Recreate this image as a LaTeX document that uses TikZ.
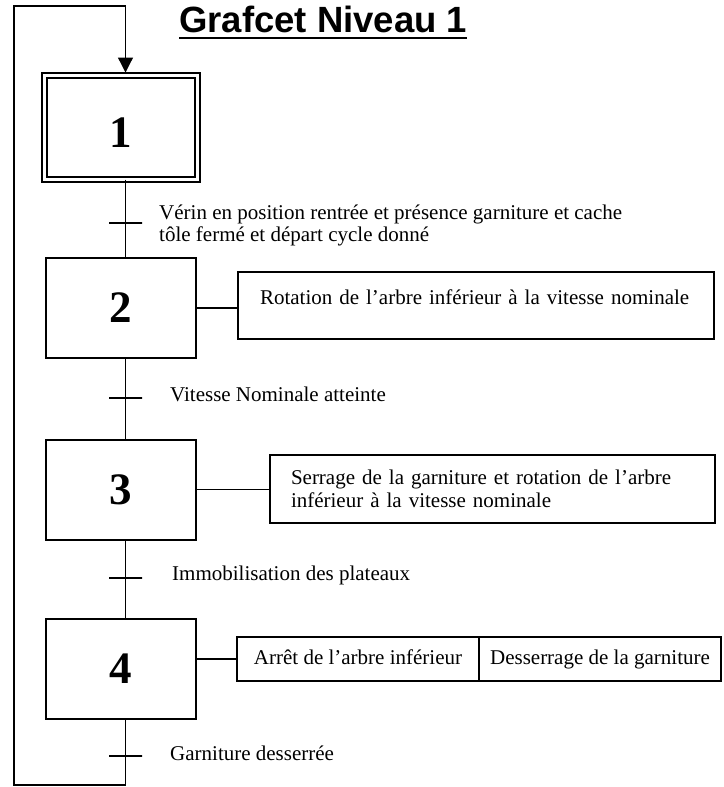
\documentclass[tikz,border=0pt]{standalone}
\usepackage{fontspec}
\setmainfont{Liberation Serif}
\newfontfamily\titlefont{Liberation Sans}
\usetikzlibrary{positioning, arrows.meta}

\tikzset{
  etape/.style={draw, line width=2pt, minimum width=150pt, minimum height=100pt, inner sep=0pt, outer sep=0pt, font=\fontsize{45}{45}\selectfont\bfseries},
  etapeinit/.style={etape, double, double distance=2.5pt, line width=1.8pt, minimum width=153pt, minimum height=104pt},
  trans/.style={draw, line width=1.3pt, minimum width=33pt, minimum height=0pt, inner sep=0pt, outer sep=0pt},
  recep/.style={anchor=west, inner sep=0pt, align=left, font=\fontsize{21}{22}\selectfont},
  action/.style={draw, line width=2pt, inner ysep=0pt, outer sep=0pt, font=\fontsize{21}{23}\selectfont},
  actcase/.style={action, minimum width=242pt, minimum height=44pt, inner xsep=0pt, text height=15pt, text depth=5pt},
  lien/.style={line width=1.3pt},
}

\begin{document}
\begin{tikzpicture}[x=1pt, y=-1pt]
\useasboundingbox (0,0) rectangle (723,787);

\node[font=\titlefont\fontsize{36.5}{36.5}\selectfont\bfseries, anchor=base west, inner sep=0pt] (titre) at (179,32) {Grafcet Niveau 1};
\draw[line width=2.6pt] ([yshift=-6pt]titre.base west) -- ([yshift=-6pt]titre.base east);

% etapes
\node[etapeinit, text height=40pt, text depth=0pt] (e1) at (121,127.5) {1};
\node[etape] (e2) at (121,308) {2};
\node[etape] (e3) at (121,489.5) {3};
\node[etape] (e4) at (121,669) {4};

% transitions
\node[trans] (t1) at (125.5,223) {};
\node[trans] (t2) at (125.5,398) {};
\node[trans] (t3) at (125.5,578) {};
\node[trans] (t4) at (125.5,756) {};

\node[recep] (r1) at (159,225) {Vérin en position rentrée et présence garniture et cache\\tôle fermé et départ cycle donné};
\node[recep] (r2) at (170,394) {Vitesse Nominale atteinte};
\node[recep] (r3) at (172,575) {Immobilisation des plateaux};
\node[recep] (r4) at (170,753) {Garniture desserrée};

% actions
\node[action, align=left, text width=432pt, inner xsep=22pt, minimum height=67pt, text height=14pt, text depth=17pt] (a2) at (476,305.5) {Rotation de l’arbre inférieur à la vitesse nominale};
\node[action, align=left, text width=403pt, inner xsep=21pt, minimum height=68pt] (a3) at (492.5,489) {Serrage de la garniture et rotation de l’arbre\\inférieur à la vitesse nominale};
\node[actcase] (a4a) at (358,659) {Arrêt de l’arbre inférieur};
\node[actcase, right=0pt of a4a] (a4b) {Desserrage de la garniture};

% liaisons
\draw[lien] (e1.south -| t1) -- (e2.north -| t1);
\draw[lien] (e2.south -| t2) -- (e3.north -| t2);
\draw[lien] (e3.south -| t3) -- (e4.north -| t3);
\draw[lien] (e2.east) -- (e2.east -| a2.west);
\draw[lien] (e3.east) -- (e3.east -| a3.west);
\draw[lien] (a4a.west -| e4.east) -- (a4a.west);

% bouclage
\coordinate (b1) at (125.5,785);
\coordinate (b2) at (14,785);
\coordinate (h2) at (14,6);
\coordinate (h1) at (125.5,6);
\draw[lien, -{Triangle[width=15pt, length=15pt]}, shorten >=3pt] (e4.south -| t4) -- (b1) -- (b2) -- (h2) -- (h1) -- (e1.north -| h1);
\end{tikzpicture}
\end{document}
